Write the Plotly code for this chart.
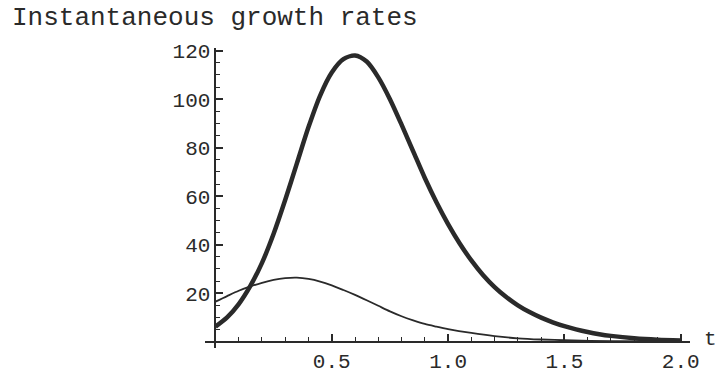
import plotly.graph_objects as go

# readings from the reference picture
t_thick = [0.0, 0.05, 0.1, 0.15, 0.2, 0.25, 0.3, 0.35, 0.4, 0.45, 0.5, 0.55, 0.6,
           0.65, 0.7, 0.75, 0.8, 0.85, 0.9, 0.95, 1.0, 1.05, 1.1, 1.15, 1.2, 1.25, 1.3,
           1.35, 1.4, 1.45, 1.5, 1.55, 1.6, 1.65, 1.7, 1.8, 1.9, 2.0]
v_thick = [6.2, 10.0, 15.5, 23.0, 32.5, 44.5, 58.5, 73.5, 88.5, 101.5, 111.0, 116.5, 118.0,
           115.5, 109.0, 100.0, 89.5, 78.5, 67.5, 57.5, 48.5, 40.5, 33.5, 27.5, 22.5, 18.4, 15.0,
           12.2, 9.9, 8.0, 6.4, 5.1, 4.0, 3.1, 2.4, 1.4, 0.8, 0.5]

t_thin = [0.0, 0.05, 0.1, 0.15, 0.2, 0.25, 0.3, 0.35, 0.4, 0.45, 0.5, 0.55, 0.6, 0.65,
          0.7, 0.75, 0.8, 0.85, 0.9, 0.95, 1.0, 1.1, 1.2, 1.3, 1.4, 1.5, 1.7, 2.0]
v_thin = [16.5, 18.8, 21.0, 22.8, 24.3, 25.5, 26.2, 26.4, 25.9, 24.8, 23.2, 21.3, 19.3, 17.1,
          14.8, 12.5, 10.5, 8.8, 7.3, 6.2, 5.2, 3.6, 2.3, 1.4, 0.9, 0.6, 0.25, 0.08]

x_ticks = [0.5, 1.0, 1.5, 2.0]
x_labels = ["0.5", "1.0", "1.5", "2.0"]
y_ticks = [20, 40, 60, 80, 100, 120]
y_labels = ["20", "40", "60", "80", "100", "120"]

title_text = "Instantaneous growth rates"
x_name = "t"

FONT = "Liberation Mono, Courier New, monospace"
INK = "#2a2a2a"

xr = [-0.045, 2.04]
yr = [-2.6, 121.1]

fig = go.Figure()
fig.add_trace(go.Scatter(x=t_thin, y=v_thin, mode="lines",
                         line=dict(color=INK, width=1.8, shape="spline", smoothing=0.8),
                         hoverinfo="skip"))
fig.add_trace(go.Scatter(x=t_thick, y=v_thick, mode="lines",
                         line=dict(color=INK, width=4.5, shape="spline", smoothing=0.8),
                         hoverinfo="skip"))

fig.update_layout(
    width=717, height=378,
    margin=dict(l=205, r=27, t=48, b=30, autoexpand=False),
    paper_bgcolor="white", plot_bgcolor="white",
    showlegend=False,
    font=dict(family=FONT, color=INK),
    xaxis=dict(
        range=xr, showgrid=False, zeroline=False, automargin=False,
        showline=True, linecolor=INK, linewidth=1.8,
        anchor="free", position=(0 - yr[0]) / (yr[1] - yr[0]),
        tickvals=x_ticks, ticktext=x_labels,
        ticks="inside", ticklen=7, tickwidth=1.5, tickcolor=INK,
        minor=dict(dtick=0.1, tick0=0, ticks="inside", ticklen=4, tickwidth=1.3, tickcolor=INK),
        tickfont=dict(family=FONT, size=21, color=INK),
    ),
    yaxis=dict(
        range=yr, showgrid=False, zeroline=False, automargin=False,
        showline=True, linecolor=INK, linewidth=1.8,
        anchor="free", position=(0 - xr[0]) / (xr[1] - xr[0]),
        tickvals=y_ticks, ticktext=y_labels,
        ticks="inside", ticklen=7, tickwidth=1.5, tickcolor=INK,
        minor=dict(dtick=5, tick0=0, ticks="inside", ticklen=4, tickwidth=1.3, tickcolor=INK),
        tickfont=dict(family=FONT, size=21, color=INK),
    ),
    title=dict(text=title_text, xref="container", yref="container",
               x=12 / 717, xanchor="left", y=1 - 7 / 378, yanchor="top",
               font=dict(family=FONT, size=26, color=INK)),
    annotations=[dict(text=x_name, x=xr[1], y=0, xref="x", yref="y",
                      xanchor="left", yanchor="middle", xshift=12, yshift=2,
                      showarrow=False, font=dict(family=FONT, size=21, color=INK))],
)

fig.write_html("out.html")
